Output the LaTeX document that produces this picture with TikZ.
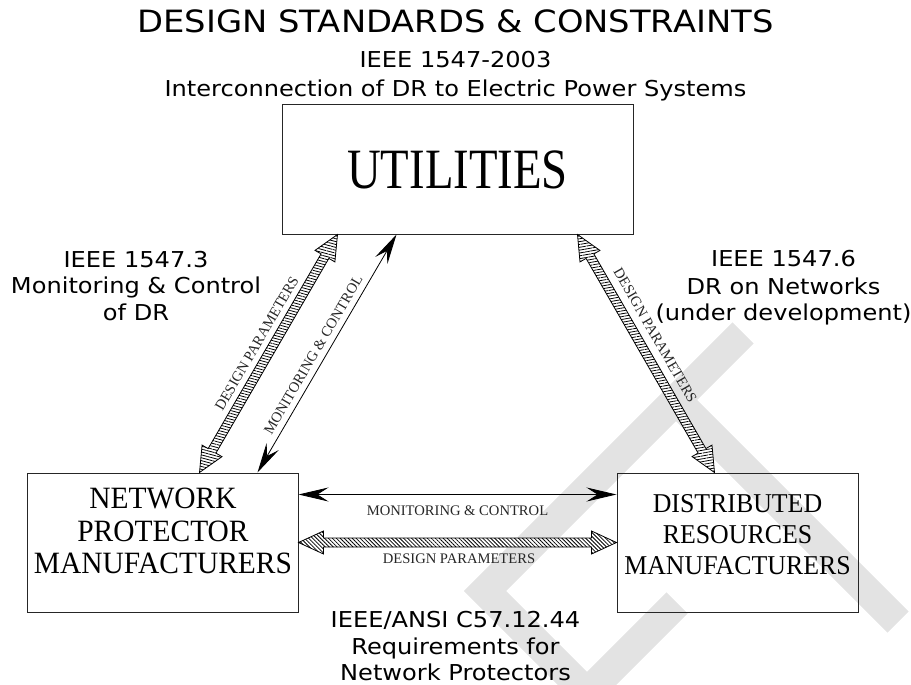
\documentclass[tikz,border=0pt]{standalone}
\usepackage{fontspec}
\usetikzlibrary{calc,arrows.meta,patterns.meta}
\newfontfamily\lblsans[FakeStretch=1.1]{DejaVu Sans}
\newfontfamily\boxserif[FakeStretch=0.95]{Liberation Serif}
\newfontfamily\utilserif[FakeStretch=0.82]{Liberation Serif}
\newfontfamily\smallserif{Liberation Serif}

\tikzset{
  box/.style={draw=black!85, line width=1pt, inner sep=0pt, rectangle},
  sanslbl/.style={font=\lblsans\fontsize{21.9}{27}\selectfont, inner sep=0pt, anchor=base},
  boxtxt/.style={inner sep=0pt, align=center},
  conn/.style={line width=0.8pt, {Stealth[length=30pt,width=14pt,inset=11pt]}-{Stealth[length=30pt,width=14pt,inset=11pt]}},
  flowlbl/.style={font=\smallserif\fontsize{14.6}{16}\selectfont, inner sep=0pt, text=black!85},
  wmark/.style={draw=black!11, line width=30pt, line cap=butt, line join=miter},
}

\newcommand\hatcharrow[3]{%
  \draw[line width=0.8pt, preaction={fill=white}, pattern={Lines[angle=#3,distance=2.8pt,line width=0.8pt]}]
    let \p1=($(#2)-(#1)$), \n1={atan2(\y1,\x1)}, \n2={veclen(\x1,\y1)} in
    (#1) -- ($(#1)+({\n1}:25)+({\n1+90}:11.5)$) -- ($(#1)+({\n1}:25)+({\n1+90}:4.5)$)
    -- ($(#1)+({\n1}:{\n2-25})+({\n1+90}:4.5)$) -- ($(#1)+({\n1}:{\n2-25})+({\n1+90}:11.5)$)
    -- (#2) -- ($(#1)+({\n1}:{\n2-25})+({\n1-90}:11.5)$) -- ($(#1)+({\n1}:{\n2-25})+({\n1-90}:4.5)$)
    -- ($(#1)+({\n1}:25)+({\n1-90}:4.5)$) -- ($(#1)+({\n1}:25)+({\n1-90}:11.5)$) -- cycle;}

\begin{document}
\begin{tikzpicture}[x=1pt,y=1pt]
\useasboundingbox (0,0) rectangle (911,-685);

% watermark
\begin{scope}
  \clip (0,0) rectangle (911,-685);
  \draw[wmark] (743,-333) -- (485,-591) -- (600,-706);
  \draw[wmark] (675,-399) -- (898,-622);
  \draw[wmark] (677,-603) -- (580,-700);
\end{scope}

% titles
\node[anchor=base, inner sep=0pt, font=\lblsans\fontsize{30.7}{34}\selectfont] (title) at (455.5,-33) {DESIGN STANDARDS \& CONSTRAINTS};
\node[sanslbl] (std) at (455.5,-68) {IEEE 1547-2003};
\node[sanslbl] (stdb) at (455.5,-96) {Interconnection of DR to Electric Power Systems};

% boxes
\node[box, minimum width=351pt, minimum height=129pt, font=\utilserif\fontsize{57}{60}\selectfont] (util) at (457.5,-169.5) {UTILITIES};
\node[box, minimum width=271pt, minimum height=139pt] (np) at (162.5,-542.5) {};
\node[box, minimum width=241pt, minimum height=139pt] (dr) at (737.5,-542.5) {};
\node[boxtxt, font=\boxserif\fontsize{31}{32.5}\selectfont] (npt) at (163,-531) {NETWORK\\PROTECTOR\\MANUFACTURERS};
\node[boxtxt, font=\boxserif\fontsize{27.2}{31}\selectfont] (drt) at (737.5,-535) {DISTRIBUTED\\RESOURCES\\MANUFACTURERS};

% side standards
\node[sanslbl] (l1) at (136,-267) {IEEE 1547.3};
\node[sanslbl] (l2) at (136,-293.5) {Monitoring \& Control};
\node[sanslbl] (l3) at (136,-320) {of DR};
\node[sanslbl] (r1) at (783.5,-266) {IEEE 1547.6};
\node[sanslbl] (r2) at (783.5,-294) {DR on Networks};
\node[sanslbl] (r3) at (783.5,-320) {(under development)};
\node[sanslbl] (b1) at (455.5,-627) {IEEE/ANSI C57.12.44};
\node[sanslbl] (b2) at (455.5,-654) {Requirements for};
\node[sanslbl] (b3) at (455.5,-680.5) {Network Protectors};

% connector end points
\coordinate (npA) at ($(np.north west)+(173,0)$);
\coordinate (npB) at ($(np.north west)+(231,0)$);
\coordinate (utA) at ($(util.south west)+(56,0)$);
\coordinate (utB) at ($(util.south west)+(115,0)$);
\coordinate (utC) at ($(util.south west)+(296,0)$);
\coordinate (drA) at ($(dr.north west)+(98,0)$);
\coordinate (npM) at ($(np.north east)+(0,-22)$);
\coordinate (drM) at ($(dr.north west)+(0,-22)$);
\coordinate (npD) at ($(np.north east)+(0,-70)$);
\coordinate (drD) at ($(dr.north west)+(0,-70)$);

% connectors
\hatcharrow{npA}{utA}{-15}
\draw[conn] (npB) -- (utB);
\hatcharrow{utC}{drA}{10}
\draw[conn] (npM) -- (drM);
\hatcharrow{npD}{drD}{-45}

% connector labels
\path (npA) -- (utA) node[flowlbl, pos=0.51, sloped, above=10pt] {DESIGN PARAMETERS};
\path (npB) -- (utB) node[flowlbl, pos=0.47, sloped, above=6pt] {MONITORING \& CONTROL};
\path (utC) -- (drA) node[flowlbl, pos=0.46, sloped, above=12pt] {DESIGN PARAMETERS};
\node[flowlbl, anchor=base] (mcl) at (457.5,-515) {MONITORING \& CONTROL};
\node[flowlbl, anchor=base] (dpl) at (459,-563) {DESIGN PARAMETERS};
\end{tikzpicture}
\end{document}
